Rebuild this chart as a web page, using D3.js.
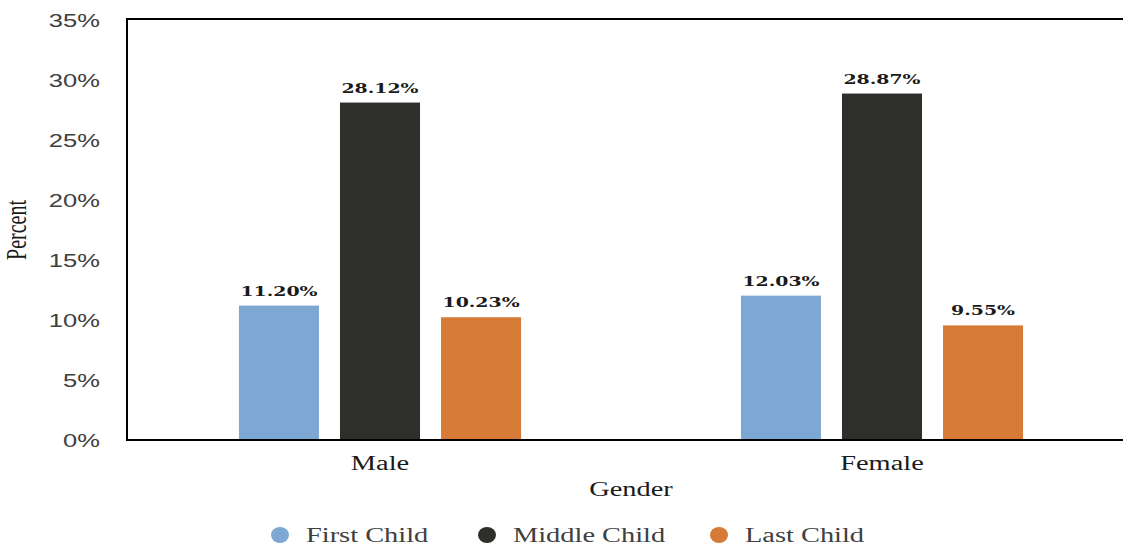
<!DOCTYPE html>
<html>
<head>
<meta charset="utf-8">
<script src="https://cdn.jsdelivr.net/npm/d3@7"></script>
<style>
  html, body { margin: 0; padding: 0; background: #fff; }
  svg { display: block; }
</style>
</head>
<body>
<svg id="chart" width="1123" height="547"></svg>
<script>
// Data
const genders = ["Male", "Female"];
const series = ["First Child", "Middle Child", "Last Child"];
const firstChild = [11.20, 12.03];
const middleChild = [28.12, 28.87];
const lastChild = [10.23, 9.55];
const yTicks = [0, 5, 10, 15, 20, 25, 30, 35];
const seriesColors = ["#7ea8d4", "#2e2e2a", "#d67a37"];

const values = [firstChild, middleChild, lastChild];
const rows = genders.map((g, gi) => ({
  gender: g,
  bars: series.map((s, si) => ({ series: s, value: values[si][gi], color: seriesColors[si] }))
}));

const svg = d3.select("#chart");
const W = 1123, H = 547;
const plot = { left: 127, top: 20, bottom: 440, right: 1135 };
// horizontal stretch applied to all text glyphs
const SX = 1.42;

const x0 = d3.scaleBand()
  .domain(genders)
  .range([plot.left, plot.right])
  .paddingInner(0.438)
  .paddingOuter(0.223);

const x1 = d3.scaleBand()
  .domain(series)
  .range([0, x0.bandwidth()])
  .paddingInner(0.208)
  .paddingOuter(0);

const y = d3.scaleLinear().domain([0, 35]).range([plot.bottom, plot.top]);

function stretched(sel, sx) {
  return sel.attr("transform", function () {
    const tx = +d3.select(this).attr("data-x");
    const ty = +d3.select(this).attr("data-y");
    return `translate(${tx},${ty}) scale(${sx},1)`;
  });
}

// Bars
const groups = svg.append("g").selectAll("g")
  .data(rows).join("g")
  .attr("transform", d => `translate(${x0(d.gender)},0)`);

groups.selectAll("rect")
  .data(d => d.bars).join("rect")
  .attr("x", d => x1(d.series))
  .attr("y", d => y(d.value))
  .attr("width", x1.bandwidth())
  .attr("height", d => y(0) - y(d.value))
  .attr("fill", d => d.color);

// Value labels
groups.selectAll("text.val")
  .data(d => d.bars).join("text")
  .attr("class", "val")
  .attr("data-x", d => x1(d.series) + x1.bandwidth() / 2)
  .attr("data-y", d => y(d.value) - 10)
  .attr("text-anchor", "middle")
  .style("font-family", "'DejaVu Serif', serif")
  .style("font-weight", "bold")
  .style("font-size", "13.5px")
  .attr("fill", "#1a1a1a")
  .text(d => d.value.toFixed(2) + "%")
  .call(stretched, 1.4);

// Y axis tick labels
const yAxis = svg.append("g")
  .attr("transform", `translate(${plot.left},0)`)
  .call(d3.axisLeft(y).tickValues(yTicks).tickSize(0).tickPadding(27).tickFormat(d => d + "%"));
yAxis.select(".domain").remove();
yAxis.selectAll("text")
  .style("font-family", "'Liberation Sans', Arial, sans-serif")
  .style("font-size", "18px")
  .attr("fill", "#404040")
  .attr("dy", "0.35em")
  .attr("transform", function () {
    const xx = +d3.select(this).attr("x");
    return `translate(${xx},0) scale(${SX},1)`;
  })
  .attr("x", 0);

// Frame lines: left, top, bottom
svg.append("line").attr("x1", plot.left).attr("x2", plot.left).attr("y1", plot.top - 1).attr("y2", plot.bottom + 1)
  .attr("stroke", "#000").attr("stroke-width", 2);
svg.append("line").attr("x1", plot.left - 1).attr("x2", W).attr("y1", plot.top - 1).attr("y2", plot.top - 1)
  .attr("stroke", "#000").attr("stroke-width", 2);
svg.append("line").attr("x1", plot.left - 1).attr("x2", W).attr("y1", plot.bottom).attr("y2", plot.bottom)
  .attr("stroke", "#000").attr("stroke-width", 2);

// Category labels
const serif = "'Liberation Serif', 'Times New Roman', serif";
svg.append("g").selectAll("text")
  .data(genders).join("text")
  .attr("data-x", d => x0(d) + x0.bandwidth() / 2)
  .attr("data-y", 470)
  .attr("text-anchor", "middle")
  .style("font-family", serif)
  .style("font-size", "20px")
  .attr("fill", "#1a1a1a")
  .text(d => d)
  .call(stretched, SX);

// Axis titles
svg.append("text")
  .attr("data-x", (plot.left + W) / 2 + 6)
  .attr("data-y", 496)
  .attr("text-anchor", "middle")
  .style("font-family", serif)
  .style("font-size", "20px")
  .attr("fill", "#1a1a1a")
  .text("Gender")
  .call(stretched, SX);

svg.append("text")
  .attr("transform", `translate(26,230) scale(${SX},1) rotate(-90)`)
  .attr("text-anchor", "middle")
  .style("font-family", serif)
  .style("font-size", "20px")
  .attr("fill", "#1a1a1a")
  .text("Percent");

// Legend
const legendX = [280, 487, 719];
const legend = svg.append("g").selectAll("g")
  .data(series).join("g")
  .attr("transform", (d, i) => `translate(${legendX[i]},535)`);
legend.append("ellipse")
  .attr("rx", 9).attr("ry", 8)
  .attr("fill", (d, i) => seriesColors[i]);
legend.append("text")
  .attr("transform", `translate(26,6.5) scale(${SX},1)`)
  .style("font-family", serif)
  .style("font-size", "20px")
  .attr("fill", "#404040")
  .text(d => d);
</script>
</body>
</html>
